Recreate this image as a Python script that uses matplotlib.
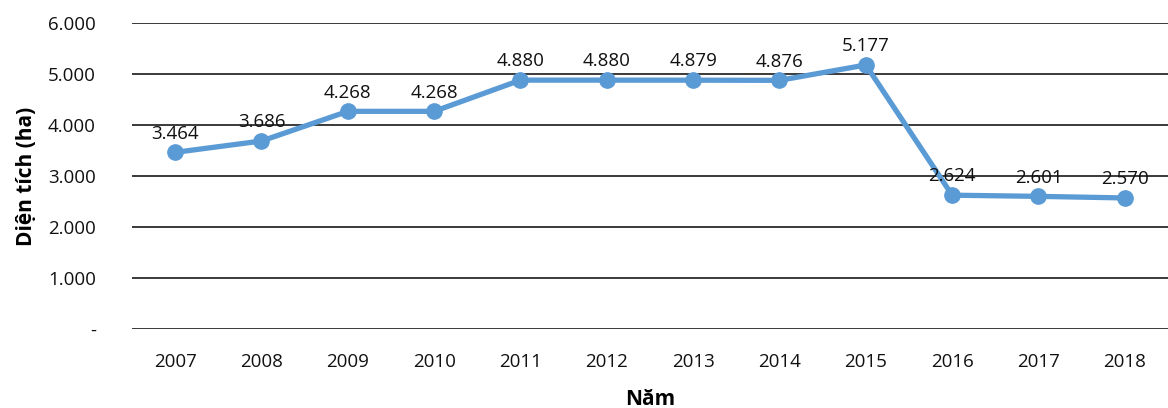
import matplotlib.pyplot as plt
from matplotlib.ticker import FuncFormatter

years = ["2007", "2008", "2009", "2010", "2011", "2012",
         "2013", "2014", "2015", "2016", "2017", "2018"]
area = [3464, 3686, 4268, 4268, 4880, 4880, 4879, 4876, 5177, 2624, 2601, 2570]

plt.rcParams["font.family"] = ["Open Sans", "DejaVu Sans"]


def vn_fmt(v, pos=None):
    if v == 0:
        return "-"
    return f"{v:,.0f}".replace(",", ".")


fig = plt.figure(figsize=(11.68, 4.08), dpi=100)
ax = fig.add_axes([0.113, 0.1936, 0.887, 0.75])

x = list(range(len(years)))
ax.plot(x, area, color="#5B9BD5", lw=3.8, marker="o", ms=11, zorder=3,
        solid_capstyle="round")
for xi, v in zip(x, area):
    ax.annotate(vn_fmt(v), (xi, v), xytext=(0, 7), textcoords="offset points",
                ha="center", va="bottom", fontsize=13.5, color="#111111")

ax.set_xlim(-0.5, len(years) - 0.5)
ax.set_ylim(0, 6000)
ax.set_yticks(range(0, 6001, 1000))
ax.yaxis.set_major_formatter(FuncFormatter(vn_fmt))
ax.set_xticks(x)
ax.set_xticklabels(years)
ax.tick_params(length=0, labelsize=13.5, colors="#111111")
ax.tick_params(axis="x", pad=17)
ax.tick_params(axis="y", pad=26)
ax.grid(axis="y", color="#3a3a3a", lw=1.4)
ax.set_axisbelow(True)
for s in ax.spines.values():
    s.set_visible(False)

ax.set_xlabel("Năm", fontsize=15, fontweight="bold", labelpad=13)
ax.set_ylabel("Diện tích (ha)", fontsize=15, fontweight="bold", labelpad=8)

fig.savefig("out.png", dpi=100)
